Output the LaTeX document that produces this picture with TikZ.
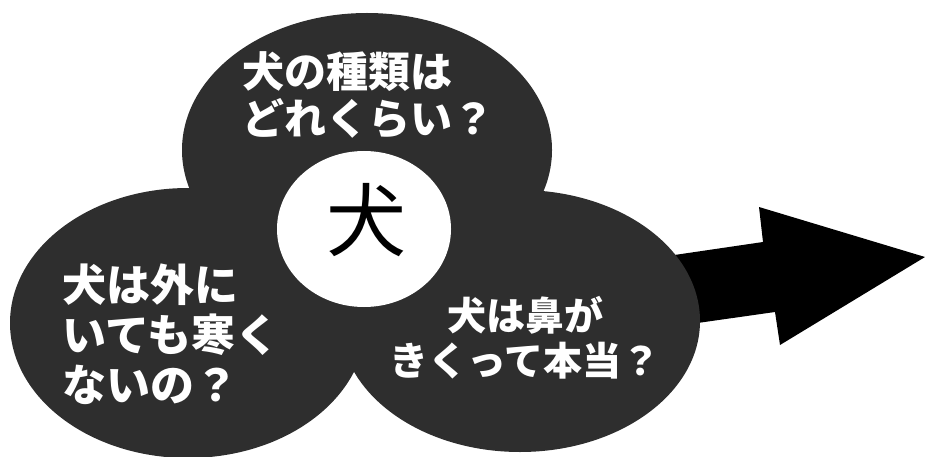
\documentclass[tikz,border=0pt]{standalone}
\usepackage{fontspec}
\usepackage{tikz}
\usetikzlibrary{shapes.geometric}

\newfontfamily\jp{Noto Sans CJK JP}
\definecolor{blobgray}{gray}{0.18}

\begin{document}
\begin{tikzpicture}[x=1pt,y=-1pt]
	\useasboundingbox (0,0) rectangle (925,457);
	
	
	\coordinate (s1) at (620,263);
	\coordinate (s2) at (763,242);
	\coordinate (h1) at (759,207);
	\coordinate (tip) at (925,257);
	\coordinate (h2) at (780,345);
	\coordinate (s3) at (775,312);
	\coordinate (s4) at (620,334);
	\fill[black] (s1) -- (s2) -- (h1) -- (tip) -- (h2) -- (s3) -- (s4) -- cycle;
	
	
	\node[shape=ellipse,fill=blobgray,inner sep=0pt,minimum width=370pt,minimum height=274pt] (kinds) at (367,150) {};
	\node[shape=ellipse,fill=blobgray,inner sep=0pt,minimum width=356pt,minimum height=270pt] (cold) at (188,323) {};
	\node[shape=ellipse,fill=blobgray,inner sep=0pt,minimum width=360pt,minimum height=262pt] (nose) at (520,321) {};
	
	\node[shape=ellipse,fill=white,inner sep=0pt,minimum width=174pt,minimum height=156pt] (hub) at (364,229) {};
	
	
	\node[text=white,align=left,font=\jp\bfseries\fontsize{42}{47}\selectfont] (kindstxt) at (368,95) {犬の種類は\\どれくらい？};
	\node[text=white,align=left,font=\jp\bfseries\fontsize{44}{50}\selectfont] (coldtxt) at (171,334) {犬は外に\\いても寒く\\ないの？};
	\node[text=white,align=center,font=\jp\bfseries\fontsize{39}{45}\selectfont] (nosetxt) at (525,338) {犬は鼻が\\きくって本当？};
	
	\node[font=\jp\fontsize{80}{80}\selectfont] (dog) at (366,220) {犬};
	
\end{tikzpicture}
\end{document}
